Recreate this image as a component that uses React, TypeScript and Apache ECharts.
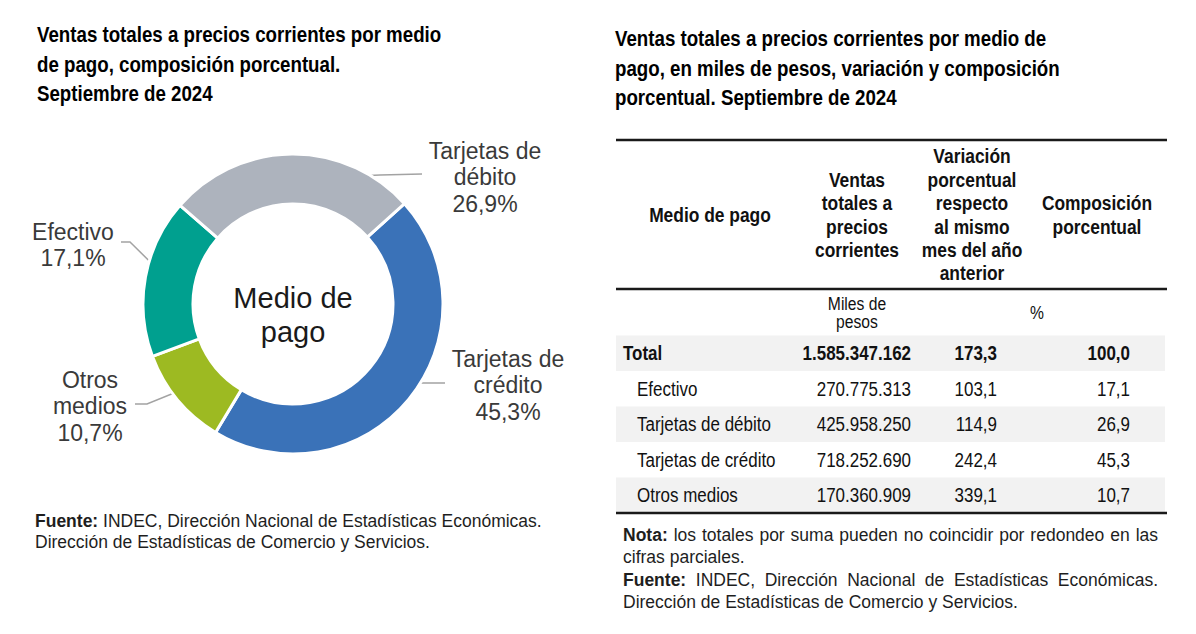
import React, { useEffect, useRef } from "react";
import * as echarts from "echarts";

// ---------- data ----------
const categories = ["Tarjetas de crédito", "Otros medios", "Efectivo", "Tarjetas de débito"];
const pieLabels = ["Tarjetas de\ncrédito", "Otros\nmedios", "Efectivo", "Tarjetas de\ndébito"];
const shares = [45.3, 10.7, 17.1, 26.9];
const colors = ["#3a72b8", "#9dba22", "#00a08f", "#adb3bd"];

const tableRows = ["Total", "Efectivo", "Tarjetas de débito", "Tarjetas de crédito", "Otros medios"];
const salesThousands = [1585347162, 270775313, 425958250, 718252690, 170360909];
const yoyChange = [173.3, 103.1, 114.9, 242.4, 339.1];
const composition = [100.0, 17.1, 26.9, 45.3, 10.7];

const leftTitle = ["Ventas totales a precios corrientes por medio", "de pago, composición porcentual.", "Septiembre de 2024"];
const rightTitle = ["Ventas totales a precios corrientes por medio de", "pago, en miles de pesos, variación y composición", "porcentual. Septiembre de 2024"];
const headers = [
  "Medio de pago",
  "Ventas\ntotales a\nprecios\ncorrientes",
  "Variación\nporcentual\nrespecto\nal mismo\nmes del año\nanterior",
  "Composición\nporcentual",
];
const units = ["Miles de\npesos", "%"];
const sourceText = "INDEC, Dirección Nacional de Estadísticas Económicas.";
const sourceText2 = "Dirección de Estadísticas de Comercio y Servicios.";
const noteText = "los totales por suma pueden no coincidir por redondeo en las";
const noteText2 = "cifras parciales.";

// ---------- helpers ----------
const SANS = "'Liberation Sans', Arial, Helvetica, sans-serif";
const NARROW_SCALE = 0.87;
const fmt1 = (v: number) => v.toFixed(1).replace(".", ",");
const fmtThousands = (v: number) => String(v).replace(/\B(?=(\d{3})+(?!\d))/g, ".");

function measure(text: string, font: string) {
  const c = document.createElement("canvas").getContext("2d")!;
  c.font = font;
  return c.measureText(text).width;
}

// condensed-looking text: Liberation Sans squeezed horizontally
function ntext(x: number, y: number, text: string, o: any = {}) {
  return {
    type: "text",
    x,
    y,
    scaleX: NARROW_SCALE,
    style: {
      text,
      fontFamily: SANS,
      fontSize: o.size ?? 19,
      fontWeight: o.bold ? "bold" : "normal",
      lineHeight: o.lh,
      fill: o.fill ?? "#111",
      textAlign: o.align ?? "left",
      textVerticalAlign: "middle",
    },
  };
}

function justifiedLine(boldWord: string, rest: string, x0: number, x1: number, y: number, size: number) {
  const words = [boldWord, ...rest.split(" ")];
  const fonts = words.map((_, i) => `${i === 0 ? "bold " : ""}${size}px ${SANS}`);
  const widths = words.map((w, i) => measure(w, fonts[i]));
  const total = widths.reduce((a, b) => a + b, 0);
  const gap = (x1 - x0 - total) / (words.length - 1);
  const els: any[] = [];
  let x = x0;
  words.forEach((w, i) => {
    els.push({
      type: "text",
      x,
      y,
      style: {
        text: w,
        fontFamily: SANS,
        fontSize: size,
        fontWeight: i === 0 ? "bold" : "normal",
        fill: "#1e1e1e",
        textAlign: "left",
        textVerticalAlign: "middle",
      },
    });
    x += widths[i] + gap;
  });
  return els;
}

function plainLine(x: number, y: number, text: string, size: number, bold?: string) {
  return {
    type: "text",
    x,
    y,
    style: {
      text: bold ? `{b|${bold}} ${text}` : text,
      fontFamily: SANS,
      fontSize: size,
      fill: "#1e1e1e",
      textAlign: "left",
      textVerticalAlign: "middle",
      rich: { b: { fontWeight: "bold", fontFamily: SANS, fontSize: size, fill: "#1e1e1e" } },
    },
  };
}

export default function App() {
  const ref = useRef<HTMLDivElement>(null);

  useEffect(() => {
    document.body.style.margin = "0";
    const chart = echarts.init(ref.current!, null, { renderer: "svg" });

    const cx = 293;
    const cy = 304;
    const rIn = 100;
    const rOut = 150;
    const startAngle = 42;
    const totalShare = shares.reduce((a, b) => a + b, 0);
    const cum: number[] = [];
    shares.reduce((acc, v, i) => {
      cum[i] = acc;
      return acc + v;
    }, 0);
    const midPoint = (i: number) => {
      const a = ((startAngle - ((cum[i] + shares[i] / 2) / totalShare) * 360) * Math.PI) / 180;
      const r = (rIn + rOut) / 2;
      return [cx + r * Math.cos(a), cy - r * Math.sin(a)];
    };

    // label placement (layout only)
    const labelPos = [
      { x: 508, y: 385, line: [[420, 383], [445, 383]] },
      { x: 90, y: 406, line: [[147, 404], [135, 404]] },
      { x: 73, y: 245, line: [[130, 242], [121, 242]] },
      { x: 485, y: 177, line: [[380, 175], [422, 174]] },
    ];

    const graphics: any[] = [];
    // titles
    leftTitle.forEach((t, i) => graphics.push(ntext(37, 35 + i * 29.5, t, { bold: true, size: 21.5, fill: "#000" })));
    rightTitle.forEach((t, i) => graphics.push(ntext(615, 39 + i * 29.5, t, { bold: true, size: 21.5, fill: "#000" })));
    // center label
    graphics.push({
      type: "text",
      x: cx,
      y: cy + 11,
      style: { text: "Medio de\npago", fontFamily: SANS, fontSize: 29, lineHeight: 34, fill: "#1a1a1a", textAlign: "center", textVerticalAlign: "middle" },
    });
    // left source
    graphics.push(plainLine(35, 521, sourceText, 17.5, "Fuente:"));
    graphics.push(plainLine(35, 542, sourceText2, 17.5));

    // table
    const tX0 = 616;
    const tX1 = 1167;
    const rowTop = 335.5;
    const rowH = 35.5;
    tableRows.forEach((_, i) => {
      if (i % 2 === 0) {
        graphics.push({
          type: "rect",
          shape: { x: tX0, y: rowTop + i * rowH, width: 549, height: rowH },
          style: { fill: "#f2f2f2" },
        });
      }
    });
    [140, 289, 513].forEach((y) => {
      graphics.push({
        type: "line",
        shape: { x1: tX0, y1: y, x2: tX1, y2: y },
        style: { stroke: "#1a1a1a", lineWidth: 2.5 },
      });
    });
    const headerX = [710, 857, 972, 1097];
    headers.forEach((h, i) => graphics.push(ntext(headerX[i], 215, h, { bold: true, size: 20, lh: 23.4, align: "center" })));
    graphics.push(ntext(857, 313, units[0], { size: 18, lh: 18.5, align: "center" }));
    graphics.push(ntext(1037, 313, units[1], { size: 18, align: "center" }));
    tableRows.forEach((name, i) => {
      const y = rowTop + rowH * (i + 0.5);
      const o = { bold: i === 0, size: 19.5 };
      graphics.push(ntext(i === 0 ? 623 : 637, y, name, o));
      graphics.push(ntext(911, y, fmtThousands(salesThousands[i]), { ...o, align: "right" }));
      graphics.push(ntext(997, y, fmt1(yoyChange[i]), { ...o, align: "right" }));
      graphics.push(ntext(1130, y, fmt1(composition[i]), { ...o, align: "right" }));
    });
    // note + source (right)
    graphics.push(...justifiedLine("Nota:", noteText, 623, 1158, 535, 17.5));
    graphics.push(plainLine(623, 557, noteText2, 17.5));
    graphics.push(...justifiedLine("Fuente:", sourceText, 623, 1158, 580, 17.5));
    graphics.push(plainLine(623, 602, sourceText2, 17.5));

    chart.setOption({
      animation: false,
      backgroundColor: "#ffffff",
      series: [
        {
          type: "pie",
          center: [cx, cy],
          radius: [rIn, rOut],
          startAngle,
          clockwise: true,
          silent: true,
          avoidLabelOverlap: false,
          data: categories.map((c, i) => ({ name: c, value: shares[i], itemStyle: { color: colors[i] } })),
          itemStyle: { borderColor: "#ffffff", borderWidth: 3 },
          label: {
            show: true,
            position: "outside",
            formatter: (p: any) => `${pieLabels[p.dataIndex]}\n${fmt1(p.value)}%`,
            fontFamily: SANS,
            fontSize: 23,
            lineHeight: 26.5,
            color: "#3a3a3a",
            align: "center",
          },
          labelLine: { show: true, lineStyle: { color: "#a3a3a3", width: 1.5 } },
          labelLayout: (params: any) => {
            const lp = labelPos[params.dataIndex];
            return {
              x: lp.x,
              y: lp.y,
              align: "center",
              verticalAlign: "middle",
              labelLinePoints: [midPoint(params.dataIndex), lp.line[0], lp.line[1]],
            };
          },
          emphasis: { disabled: true },
        },
      ],
      graphic: graphics,
    });

    return () => chart.dispose();
  }, []);

  return <div ref={ref} style={{ width: 1196, height: 634 }} />;
}
